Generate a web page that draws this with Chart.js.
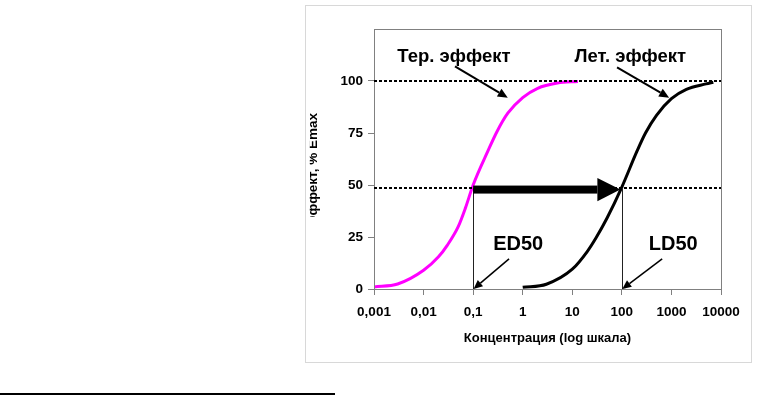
<!DOCTYPE html>
<html><head><meta charset="utf-8">
<script src="https://cdn.jsdelivr.net/npm/chart.js@4/dist/chart.umd.min.js"></script>
<style>html,body{margin:0;padding:0;background:#fff;overflow:hidden}canvas{display:block}</style>
</head><body>
<canvas id="c" width="757" height="395"></canvas>
<script>
// ---- data ----
const terConc   = [0.001, 0.003, 0.01, 0.02, 0.03, 0.05, 0.07, 0.1, 0.2, 0.3, 0.5, 1, 2, 5, 13];
const terEffect = [1, 2.4, 9, 15.5, 21, 30, 39, 50, 66.5, 75.5, 84.5, 92, 96.5, 99, 99.8];
const letConc   = [1, 3, 10, 20, 30, 50, 100, 200, 300, 500, 1000, 2000, 5000, 7000];
const letEffect = [0.8, 2.3, 9.5, 18, 24.5, 34, 49, 66, 75, 83.5, 91.5, 96, 98.6, 99.4];
const xTickValues = [0.001, 0.01, 0.1, 1, 10, 100, 1000, 10000];
const xTickLabels = ['0,001', '0,01', '0,1', '1', '10', '100', '1000', '10000'];
const yTickValues = [0, 25, 50, 75, 100];
const yTickLabels = ['0', '25', '50', '75', '100'];
const refLevels = [100, 48.5];
const ed50 = 0.1;
const ld50 = 100;
const shiftLevel = 47.8;
const xTitle = 'Концентрация (log шкала)';
const yTitle = 'Эффект, % Emax';
const noteTexts = ['Тер. эффект', 'Лет. эффект', 'ED50', 'LD50'];

// ---- annotation placement (data coordinates) ----
const notes = [
  {x: 0.041, y: 111.5, size: 18.5, from: [0.043, 107], to: [0.5, 92], lw: 2, head: 10},
  {x: 148,   y: 111.5, size: 18.5, from: [80, 106.5],  to: [900, 92], lw: 2, head: 10},
  {x: 0.81,  y: 21.2, size: 20,  from: [0.53, 14.5], to: [0.102, 0], lw: 1.5, head: 9},
  {x: 1090,  y: 21.2, size: 20,  from: [650, 14.5],  to: [102, 0], lw: 1.5, head: 9}
];

const FONT = "'Liberation Sans', Arial, sans-serif";

function arrow(ctx, x1, y1, x2, y2, lw, head) {
  const a = Math.atan2(y2 - y1, x2 - x1);
  const bx = x2 - head * Math.cos(a), by = y2 - head * Math.sin(a);
  ctx.beginPath();
  ctx.lineWidth = lw;
  ctx.moveTo(x1, y1); ctx.lineTo(bx, by); ctx.stroke();
  const hw = head * 0.45;
  ctx.beginPath();
  ctx.moveTo(x2, y2);
  ctx.lineTo(bx + hw * Math.sin(a), by - hw * Math.cos(a));
  ctx.lineTo(bx - hw * Math.sin(a), by + hw * Math.cos(a));
  ctx.closePath(); ctx.fill();
}

const deco = {
  id: 'deco',
  beforeDraw(chart) {
    const ctx = chart.ctx;
    ctx.save();
    ctx.fillStyle = '#fff';
    ctx.fillRect(0, 0, chart.width, chart.height);
    ctx.strokeStyle = '#d8d8d8';
    ctx.lineWidth = 1;
    ctx.strokeRect(305.5, 5.5, 446, 357);
    ctx.fillStyle = '#000';
    ctx.fillRect(0, 393, 335, 2);
    ctx.restore();
  },
  afterDatasetsDraw(chart) {
    const ctx = chart.ctx, xs = chart.scales.x, ys = chart.scales.y, ca = chart.chartArea;
    ctx.save();
    // plot border (top/right)
    ctx.strokeStyle = '#808080'; ctx.lineWidth = 1;
    ctx.strokeRect(Math.round(ca.left) + 0.5, Math.round(ca.top) + 0.5, Math.round(ca.right - ca.left), Math.round(ca.bottom - ca.top));
    // dashed reference lines
    ctx.strokeStyle = '#000'; ctx.lineWidth = 2; ctx.setLineDash([3, 2]);
    refLevels.forEach(v => {
      const y = ys.getPixelForValue(v);
      ctx.beginPath(); ctx.moveTo(ca.left, y); ctx.lineTo(ca.right, y); ctx.stroke();
    });
    ctx.setLineDash([]);
    // vertical drop lines
    ctx.strokeStyle = '#222'; ctx.lineWidth = 1;
    [ed50, ld50].forEach(v => {
      const x = Math.round(xs.getPixelForValue(v)) + 0.5;
      ctx.beginPath(); ctx.moveTo(x, ys.getPixelForValue(0)); ctx.lineTo(x, ys.getPixelForValue(refLevels[1])); ctx.stroke();
    });
    // thick shift arrow
    ctx.fillStyle = '#000';
    const sx = xs.getPixelForValue(ed50), ex = xs.getPixelForValue(ld50) - 1.5, sy = ys.getPixelForValue(shiftLevel);
    const headL = 23, headH = 11.7, body = 4;
    ctx.fillRect(sx, sy - body, ex - headL - sx, body * 2);
    ctx.beginPath();
    ctx.moveTo(ex, sy); ctx.lineTo(ex - headL, sy - headH); ctx.lineTo(ex - headL, sy + headH); ctx.closePath(); ctx.fill();
    // notes
    ctx.strokeStyle = '#000'; ctx.fillStyle = '#000';
    notes.forEach((n, i) => {
      arrow(ctx, xs.getPixelForValue(n.from[0]), ys.getPixelForValue(n.from[1]),
                 xs.getPixelForValue(n.to[0]), ys.getPixelForValue(n.to[1]), n.lw, n.head);
      ctx.font = 'bold ' + n.size + 'px ' + FONT;
      ctx.textAlign = 'center'; ctx.textBaseline = 'middle';
      ctx.fillText(noteTexts[i], xs.getPixelForValue(n.x), ys.getPixelForValue(n.y));
    });
    // y-axis title (clipped as in the original)
    ctx.save();
    ctx.beginPath(); ctx.rect(309.8, 100, 20, 117); ctx.clip();
    ctx.translate(316.5, 113); ctx.rotate(-Math.PI / 2);
    ctx.font = 'bold 13.5px ' + FONT; ctx.textAlign = 'right'; ctx.textBaseline = 'alphabetic';
    ctx.fillText(yTitle, 0, 0);
    ctx.restore();
    ctx.restore();
  }
};

const tickFont = {family: FONT, size: 13.5, weight: 'bold'};

new Chart(document.getElementById('c'), {
  type: 'line',
  data: {
    datasets: [
      {data: terConc.map((c, i) => ({x: c, y: terEffect[i]})), borderColor: '#ff00ff', borderWidth: 3, pointRadius: 0, cubicInterpolationMode: 'monotone', fill: false},
      {data: letConc.map((c, i) => ({x: c, y: letEffect[i]})), borderColor: '#000', borderWidth: 3, pointRadius: 0, cubicInterpolationMode: 'monotone', fill: false}
    ]
  },
  options: {
    responsive: false, animation: false, devicePixelRatio: 1,
    layout: {padding: {left: 305, top: 29, right: 36, bottom: 46}},
    plugins: {legend: {display: false}, tooltip: {enabled: false}},
    scales: {
      x: {
        type: 'logarithmic', min: 0.001, max: 10000,
        afterBuildTicks: s => { s.ticks = xTickValues.map(v => ({value: v})); },
        afterFit: s => { s.height = 60; s.paddingLeft = 0; s.paddingRight = 0; },
        grid: {display: true, drawOnChartArea: false, drawTicks: true, tickLength: 6, color: '#808080'},
        border: {display: true, color: '#808080', width: 1},
        ticks: {autoSkip: false, maxRotation: 0, padding: 9, color: '#000', font: tickFont,
                callback: (v, i) => xTickLabels[i]},
        title: {display: true, text: xTitle, color: '#000', font: {family: FONT, size: 13, weight: 'bold'}, padding: {top: 4, bottom: 3}}
      },
      y: {
        min: 0, max: 125,
        afterBuildTicks: s => { s.ticks = yTickValues.map(v => ({value: v})); },
        afterFit: s => { s.width = 69; s.paddingTop = 0; s.paddingBottom = 0; },
        grid: {display: true, drawOnChartArea: false, drawTicks: true, tickLength: 6, color: '#808080'},
        border: {display: true, color: '#808080', width: 1},
        ticks: {autoSkip: false, padding: 5, color: '#000', font: tickFont,
                callback: (v, i) => yTickLabels[i]}
      }
    }
  },
  plugins: [deco]
});
</script>
</body></html>
